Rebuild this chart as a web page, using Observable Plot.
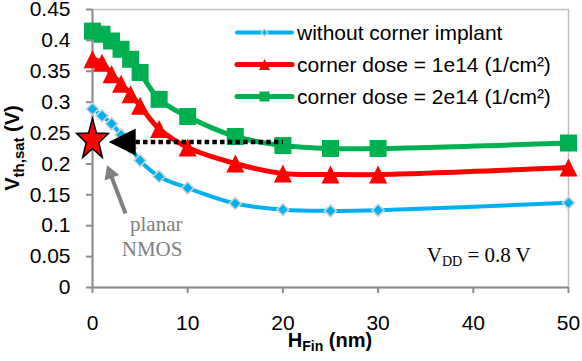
<!DOCTYPE html>
<html><head><meta charset="utf-8">
<script src="https://cdn.jsdelivr.net/npm/d3@7"></script>
<script src="https://cdn.jsdelivr.net/npm/@observablehq/plot@0.6"></script>
<style>body{margin:0;background:#fff}</style>
</head><body><div id="chart"></div>
<script>
// ---- data ----
const hFin = [0, 1, 2, 3, 4, 5, 7, 10, 15, 20, 25, 30, 50];
const vthNoImplant = [0.289, 0.278, 0.265, 0.247, 0.226, 0.2055, 0.1797, 0.161, 0.136, 0.126, 0.124, 0.125, 0.137];
const vthDose1e14  = [0.3695, 0.364, 0.3453, 0.330, 0.313, 0.294, 0.2566, 0.2266, 0.2007, 0.1845, 0.1829, 0.1829, 0.1942];
const vthDose2e14  = [0.415, 0.410, 0.399, 0.3856, 0.3694, 0.348, 0.3046, 0.2768, 0.2444, 0.2298, 0.225, 0.225, 0.2339];
const seriesNames = ["without corner implant", "corner dose = 1e14 (1/cm²)", "corner dose = 2e14 (1/cm²)"];
const seriesColors = ["#00B0F0", "#FF0000", "#00B050"];
const xTicks = [0, 10, 20, 30, 40, 50];
const yTicks = [0, 0.05, 0.1, 0.15, 0.2, 0.25, 0.3, 0.35, 0.4, 0.45];

// annotations
const planarStar = [{x: 0, y: 0.2388}];
const refLine = [{x1: 4.5, x2: 20, y: 0.2355}];
const refHead = [{x: 3.12, y: 0.2355}];
const grayArrow = [{x1: 3.47, y1: 0.1198, x2: 1.87, y2: 0.1844}];
const planarLabel = [{x: 9.45, y: 0.084, text: "planar\nNMOS"}];
const vddLabel = {x: 35.16, y: 0.041};

const rows = (vals) => hFin.map((h, i) => ({h, v: vals[i]}));
const blue = rows(vthNoImplant), red = rows(vthDose1e14), green = rows(vthDose2e14);

// custom symbols
const triSym = {draw(c, s) { const a = Math.sqrt(s / Math.PI); c.moveTo(0, -a); c.lineTo(a, a); c.lineTo(-a, a); c.closePath(); }};
const sqSym = {draw(c, s) { const a = Math.sqrt(s / Math.PI); c.moveTo(-a, -a); c.lineTo(a, -a); c.lineTo(a, a); c.lineTo(-a, a); c.closePath(); }};
const leftHead = {draw(c, s) { const a = Math.sqrt(s / Math.PI); c.moveTo(-a, 0); c.lineTo(a, -a); c.lineTo(a, a); c.closePath(); }};
const starSym = {draw(c, s) {
  const r = Math.sqrt(s / Math.PI), sx = 0.775;
  for (let i = 0; i < 10; i++) {
    const ang = -Math.PI / 2 + i * Math.PI / 5, rad = i % 2 ? r * 0.4 : r;
    const px = sx * rad * Math.cos(ang), py = rad * Math.sin(ang);
    if (i === 0) c.moveTo(px, py); else c.lineTo(px, py);
  }
  c.closePath();
}};

const axisGray = "#8c8c8c";
const plot = Plot.plot({
  width: 582, height: 361,
  marginLeft: 92, marginRight: 14, marginTop: 9, marginBottom: 74,
  x: {domain: [0, 50]},
  y: {domain: [0, 0.45]},
  style: {fontFamily: "'Liberation Sans', Arial, sans-serif", fontSize: "21px", background: "white", overflow: "visible", color: "black"},
  marks: [
    Plot.frame({stroke: "#bfbfbf", strokeWidth: 1.5}),
    Plot.axisY(yTicks, {anchor: "left", tickSize: 6, tickPadding: 16, tickFormat: d => String(+d.toFixed(2)), stroke: axisGray, strokeWidth: 2, fill: "black", label: null}),
    Plot.axisX(xTicks, {anchor: "bottom", tickSize: 6, tickPadding: 22, stroke: axisGray, strokeWidth: 2, fill: "black", label: null}),
    Plot.ruleX([0], {stroke: axisGray, strokeWidth: 2}),
    Plot.ruleY([0], {stroke: axisGray, strokeWidth: 2}),
    // blue
    Plot.line(blue, {x: "h", y: "v", stroke: seriesColors[0], strokeWidth: 4, curve: "catmull-rom"}),
    Plot.dot(blue, {x: "h", y: "v", symbol: "diamond2", r: 5.4, fill: seriesColors[0], stroke: "#d0d0d0", strokeWidth: 1.6}),
    // red
    Plot.line(red, {x: "h", y: "v", stroke: seriesColors[1], strokeWidth: 5, curve: "catmull-rom"}),
    Plot.dot(red, {x: "h", y: "v", symbol: triSym, r: 9, fill: seriesColors[1], stroke: "none"}),
    // green
    Plot.line(green, {x: "h", y: "v", stroke: seriesColors[2], strokeWidth: 5, curve: "catmull-rom"}),
    Plot.dot(green, {x: "h", y: "v", symbol: sqSym, r: 8.5, fill: seriesColors[2], stroke: "none"}),
    // annotations
    Plot.link(refLine, {x1: "x1", x2: "x2", y1: "y", y2: "y", stroke: "black", strokeWidth: 4.5, strokeDasharray: "4.5,3.2", strokeLinecap: "butt"}),
    Plot.dot(refHead, {x: "x", y: "y", symbol: leftHead, r: 13.5, fill: "black", stroke: "none"}),
    Plot.link(grayArrow, {x1: "x1", y1: "y1", x2: "x2", y2: "y2", stroke: "#808080", strokeWidth: 4}),
    Plot.dot(grayArrow, {x: "x2", y: "y2", symbol: "triangle", r: 5.8, rotate: -21, fill: "#808080", stroke: "none"}),
    Plot.dot(planarStar, {x: "x", y: "y", symbol: starSym, r: 21.5, fill: "#FF0000", stroke: "black", strokeWidth: 1.5}),
    Plot.text(planarLabel, {x: "x", y: "y", text: "text", textAnchor: "end", lineHeight: 1.19, fill: "#808080", fontFamily: "'Liberation Serif', 'Times New Roman', serif", fontSize: 21})
  ]
});
document.getElementById("chart").appendChild(plot);

const svg = d3.select(plot);
const xs = plot.scale("x"), ys = plot.scale("y");

// VDD label
const vdd = svg.append("text").attr("x", xs.apply(vddLabel.x)).attr("y", ys.apply(vddLabel.y)).attr("text-anchor", "start")
  .attr("font-family", "'Liberation Serif', 'Times New Roman', serif").attr("font-size", 21).attr("fill", "black");
vdd.append("tspan").text("V");
vdd.append("tspan").attr("font-size", 14).attr("dy", 4).text("DD");
vdd.append("tspan").attr("dy", -4).text(" = 0.8 V");

// axis titles
const xt = svg.append("text").attr("x", 330).attr("y", 347).attr("text-anchor", "middle")
  .attr("font-weight", "bold").attr("font-size", 20).attr("fill", "black");
xt.append("tspan").text("H");
xt.append("tspan").attr("font-size", 14).attr("dy", 4).text("Fin");
xt.append("tspan").attr("dy", -4).text(" (nm)");

const yt = svg.append("text").attr("transform", "translate(19,148) rotate(-90)").attr("text-anchor", "middle")
  .attr("font-weight", "bold").attr("font-size", 20).attr("fill", "black");
yt.append("tspan").text("V");
yt.append("tspan").attr("font-size", 15).attr("dy", 5).text("th,sat");
yt.append("tspan").attr("dy", -5).text(" (V)");

// legend
const legendSyms = [
  {type: d3.symbolDiamond2, size: 30, stroke: "#d0d0d0"},
  {type: triSym, size: Math.PI * 5.5 * 5.5, stroke: "none"},
  {type: sqSym, size: Math.PI * 5 * 5, stroke: "none"}
];
const legendWidths = [4, 5, 5];
const lg = svg.append("g");
seriesNames.forEach((name, i) => {
  const cy = 32.5 + i * 32;
  lg.append("line").attr("x1", 237).attr("x2", 292).attr("y1", cy).attr("y2", cy)
    .attr("stroke", seriesColors[i]).attr("stroke-width", legendWidths[i]).attr("stroke-linecap", "round");
  lg.append("path").attr("transform", `translate(264.5,${cy})`)
    .attr("d", d3.symbol(legendSyms[i].type, legendSyms[i].size)())
    .attr("fill", seriesColors[i]).attr("stroke", legendSyms[i].stroke).attr("stroke-width", 1.2);
  lg.append("text").attr("x", 297).attr("y", cy).attr("dy", "0.36em").attr("text-anchor", "start")
    .attr("font-size", 21).attr("fill", "black").text(name);
});
</script>
</body></html>
